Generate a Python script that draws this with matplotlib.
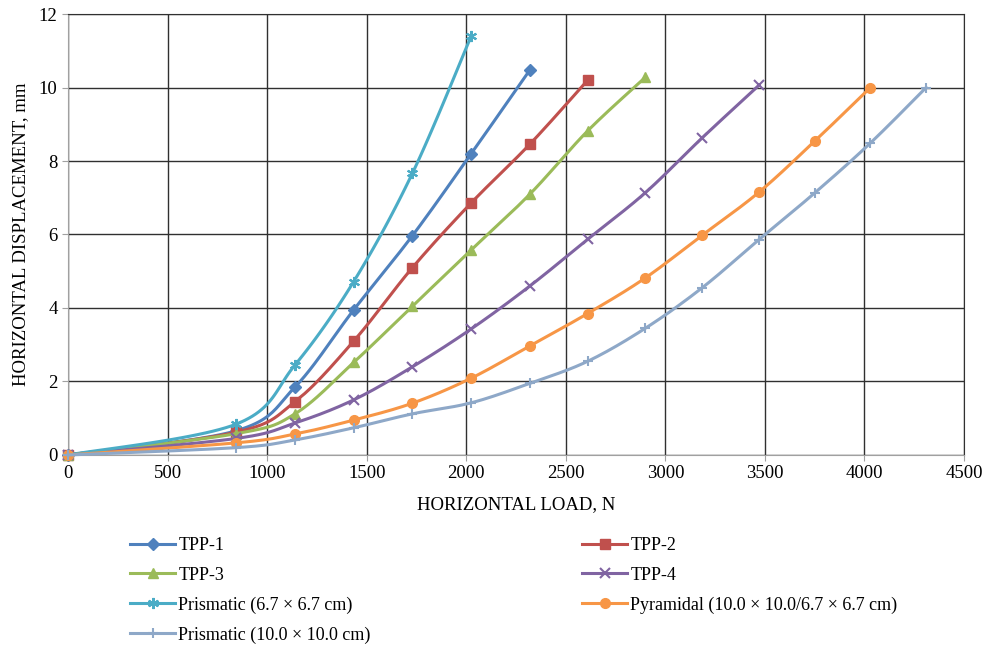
import matplotlib.pyplot as plt
import numpy as np

plt.rcParams['font.family'] = ['Liberation Serif', 'DejaVu Serif']

# horizontal load (N) at each reading
load = [0, 845, 1140, 1435, 1730, 2025, 2320, 2610, 2900, 3185, 3470, 3750, 4030, 4310]

# horizontal displacement (mm) per pile type
tpp1 = [0, 0.66, 1.85, 3.95, 5.97, 8.2, 10.48]
tpp2 = [0, 0.62, 1.45, 3.1, 5.1, 6.86, 8.46, 10.2]
tpp3 = [0, 0.58, 1.12, 2.52, 4.05, 5.58, 7.1, 8.82, 10.28]
tpp4 = [0, 0.45, 0.87, 1.5, 2.4, 3.43, 4.6, 5.87, 7.14, 8.63, 10.06]
prism67 = [0, 0.84, 2.45, 4.72, 7.67, 11.4]
pyramidal = [0, 0.33, 0.57, 0.95, 1.41, 2.09, 2.97, 3.85, 4.82, 5.98, 7.15, 8.54, 10.0]
prism10 = [0, 0.2, 0.41, 0.74, 1.12, 1.42, 1.95, 2.55, 3.45, 4.55, 5.86, 7.13, 8.49, 10.0]

series = [
    ('TPP-1', tpp1, '#4F81BD', 'D', 6),
    ('TPP-2', tpp2, '#C0504D', 's', 7),
    ('TPP-3', tpp3, '#9BBB59', '^', 7),
    ('TPP-4', tpp4, '#8064A2', 'x', 7),
    ('Prismatic (6.7 × 6.7 cm)', prism67, '#4BACC6', (6, 2, 0), 8),
    ('Pyramidal (10.0 × 10.0/6.7 × 6.7 cm)', pyramidal, '#F79646', 'o', 7),
    ('Prismatic (10.0 × 10.0 cm)', prism10, '#8EA8C8', '+', 7),
]

N_SEG = 24


def smooth(xs, ys):
    # Catmull-Rom style bezier smoothing between consecutive points
    p = np.column_stack([xs, ys]).astype(float)
    out = []
    for i in range(len(p) - 1):
        p0 = p[i - 1] if i > 0 else p[i]
        p1, p2 = p[i], p[i + 1]
        p3 = p[i + 2] if i + 2 < len(p) else p[i + 1]
        c1 = p1 + (p2 - p0) / 6
        c2 = p2 - (p3 - p1) / 6
        t = np.linspace(0, 1, N_SEG, endpoint=False)[:, None]
        out.append((1 - t) ** 3 * p1 + 3 * (1 - t) ** 2 * t * c1
                   + 3 * (1 - t) * t ** 2 * c2 + t ** 3 * p2)
    out.append(p[-1:])
    pts = np.vstack(out)
    return pts[:, 0], pts[:, 1]


fig = plt.figure(figsize=(9.87, 6.46), dpi=100)
ax = fig.add_axes([0.0689, 0.2957, 0.9078, 0.6826])

handles = {}
for name, ys, color, marker, ms in series:
    xs = load[:len(ys)]
    sx, sy = smooth(xs, ys)
    mew = 1.5 if marker in ('x', '+', (6, 2, 0)) else 1
    line, = ax.plot(sx, sy, color=color, lw=2.2, marker=marker, ms=ms,
                    markevery=list(range(0, len(sx), N_SEG)), mew=mew,
                    mec=color, mfc=color, zorder=3, clip_on=False)
    handles[name] = line

ax.set_xlim(0, 4500)
ax.set_ylim(0, 12)
ax.set_xticks(np.arange(0, 4501, 500))
ax.set_yticks(np.arange(0, 13, 2))
ax.grid(True, color='#303030', lw=1)
ax.set_axisbelow(True)
for side in ('left', 'bottom'):
    ax.spines[side].set_color('#A0A0A0')
for side in ('top', 'right'):
    ax.spines[side].set_color('#303030')
ax.tick_params(axis='both', labelsize=13.5, length=4.5, pad=3,
               color='#A0A0A0', direction='out')
ax.set_xlabel('HORIZONTAL LOAD, N', fontsize=13.5, labelpad=10)
ax.set_ylabel('HORIZONTAL DISPLACEMENT, mm', fontsize=13.5, labelpad=7)

leg_kw = dict(frameon=False, fontsize=13, handlelength=2.5, handletextpad=0.18,
              labelspacing=0.7, borderaxespad=0, borderpad=0)
left_names = ['TPP-1', 'TPP-3', 'Prismatic (6.7 × 6.7 cm)', 'Prismatic (10.0 × 10.0 cm)']
right_names = ['TPP-2', 'TPP-4', 'Pyramidal (10.0 × 10.0/6.7 × 6.7 cm)']
fig.legend([handles[n] for n in left_names], left_names, loc='upper left',
           bbox_to_anchor=(130 / 987, 1 - 537 / 646), **leg_kw)
fig.legend([handles[n] for n in right_names], right_names, loc='upper left',
           bbox_to_anchor=(582 / 987, 1 - 537 / 646), **leg_kw)

fig.savefig('out.png', dpi=100)
